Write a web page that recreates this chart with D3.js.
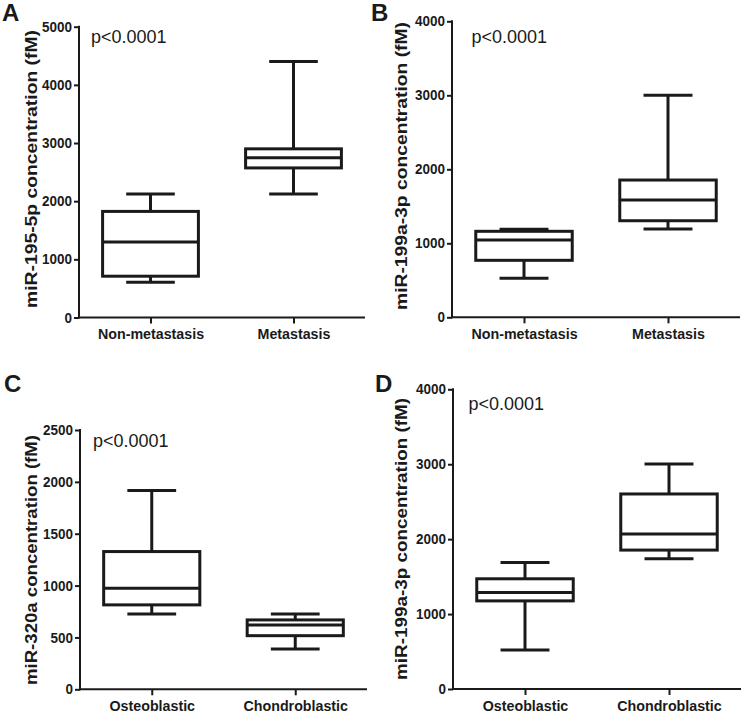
<!DOCTYPE html>
<html>
<head>
<meta charset="utf-8">
<script src="https://cdn.jsdelivr.net/npm/d3@7"></script>
<style>
  html, body { margin: 0; padding: 0; background: #fff; }
  svg { display: block; }
  text { font-family: "Liberation Sans", Arial, sans-serif; fill: #1a1a1a; }
</style>
</head>
<body>
<svg id="chart" width="741" height="713"></svg>
<script>
// ---------------- data ----------------
const categoriesMetastasis = ["Non-metastasis", "Metastasis"];
const categoriesSubtype = ["Osteoblastic", "Chondroblastic"];
// each box: [min, q1, median, q3, max]
const miR195_5p_byMetastasis = [[607, 710, 1297, 1824, 2124], [2124, 2572, 2745, 2900, 4400]];
const miR199a_3p_byMetastasis = [[527, 770, 1045, 1162, 1189], [1193, 1305, 1585, 1855, 3000]];
const miR320a_bySubtype = [[727, 814, 975, 1328, 1917], [389, 517, 621, 669, 727]];
const miR199a_3p_bySubtype = [[521, 1176, 1288, 1471, 1689], [1738, 1854, 2068, 2603, 3004]];
const ticksA = [0, 1000, 2000, 3000, 4000, 5000];
const ticksB = [0, 1000, 2000, 3000, 4000];
const ticksC = [0, 500, 1000, 1500, 2000, 2500];
const ticksD = [0, 1000, 2000, 3000, 4000];
const pValueLabels = ["p<0.0001", "p<0.0001", "p<0.0001", "p<0.0001"];
const yTitles = ["miR-195-5p concentration (fM)", "miR-199a-3p concentration (fM)",
                 "miR-320a concentration (fM)", "miR-199a-3p concentration (fM)"];
const panelLetters = ["A", "B", "C", "D"];

// ---------------- layout ----------------
const ink = "#1a1a1a";
const panels = [
  { letter: panelLetters[0], cats: categoriesMetastasis, data: miR195_5p_byMetastasis, ticks: ticksA,
    x0: 79, x1: 365, yTop: 26.7, yBot: 317.5, title: yTitles[0], titleX: 37, titleLen: 278, titleC: 169,
    p: pValueLabels[0], pX: 91, pY: 43, lx: 2, ly: 21 },
  { letter: panelLetters[1], cats: categoriesMetastasis, data: miR199a_3p_byMetastasis, ticks: ticksB,
    x0: 452, x1: 740, yTop: 21.3, yBot: 317.3, title: yTitles[1], titleX: 407, titleLen: 288, titleC: 166,
    p: pValueLabels[1], pX: 471.5, pY: 42.5, lx: 371, ly: 21 },
  { letter: panelLetters[2], cats: categoriesSubtype, data: miR320a_bySubtype, ticks: ticksC,
    x0: 80, x1: 367, yTop: 430, yBot: 689.3, title: yTitles[2], titleX: 37, titleLen: 250, titleC: 560,
    p: pValueLabels[2], pX: 93, pY: 447, lx: 4, ly: 392 },
  { letter: panelLetters[3], cats: categoriesSubtype, data: miR199a_3p_bySubtype, ticks: ticksD,
    x0: 453, x1: 741, yTop: 389.3, yBot: 689, title: yTitles[3], titleX: 407, titleLen: 282, titleC: 539,
    p: pValueLabels[3], pX: 468.5, pY: 410, lx: 375, ly: 392 }
];

const svg = d3.select("#chart");

function condense(sel, factor) {
  sel.each(function () {
    const w = this.getComputedTextLength();
    d3.select(this).attr("textLength", w * factor).attr("lengthAdjust", "spacingAndGlyphs");
  });
}

panels.forEach(P => {
  const g = svg.append("g");
  const maxT = P.ticks[P.ticks.length - 1];
  const y = d3.scaleLinear().domain([0, maxT]).range([P.yBot, P.yTop]);
  const x = d3.scalePoint().domain(P.cats).range([P.x0, P.x1]).padding(0.5);
  const step = x.step();
  const boxW = step * 0.67;
  const capW = step * 0.34;

  // y axis
  const ya = g.append("g").attr("transform", `translate(${P.x0},0)`)
    .call(d3.axisLeft(y).tickValues(P.ticks).tickFormat(d3.format("d")).tickSize(5).tickPadding(2).tickSizeOuter(0));
  ya.select(".domain").attr("stroke", ink).attr("stroke-width", 2)
    .attr("d", `M0,${P.yTop - 1}V${P.yBot + 1}`);
  ya.selectAll(".tick line").attr("stroke", ink).attr("stroke-width", 2);
  ya.selectAll(".tick text").attr("font-size", "14.5px").attr("font-weight", "bold")
    .attr("font-family", "'Liberation Sans', Arial, sans-serif").attr("fill", ink)
    .call(condense, 0.93);

  // x axis
  const xa = g.append("g").attr("transform", `translate(0,${P.yBot})`)
    .call(d3.axisBottom(x).tickSize(6).tickPadding(5).tickSizeOuter(0));
  xa.select(".domain").attr("stroke", ink).attr("stroke-width", 2)
    .attr("d", `M${P.x0 - 1},0H${P.x1}`);
  xa.selectAll(".tick line").attr("stroke", ink).attr("stroke-width", 2);
  xa.selectAll(".tick text").attr("font-size", "15px").attr("font-weight", "bold")
    .attr("font-family", "'Liberation Sans', Arial, sans-serif").attr("fill", ink)
    .attr("dy", null).attr("y", 21.5)
    .call(condense, 0.95);

  // boxes
  const boxes = g.selectAll(".box").data(P.data.map((d, i) => ({ cat: P.cats[i], s: d })))
    .enter().append("g").attr("class", "box");
  const lineStyle = sel => sel.attr("stroke", ink).attr("stroke-width", 3).attr("fill", "none");

  boxes.append("line").call(lineStyle)
    .attr("x1", d => x(d.cat)).attr("x2", d => x(d.cat))
    .attr("y1", d => y(d.s[3])).attr("y2", d => y(d.s[4]));
  boxes.append("line").call(lineStyle)
    .attr("x1", d => x(d.cat)).attr("x2", d => x(d.cat))
    .attr("y1", d => y(d.s[1])).attr("y2", d => y(d.s[0]));
  boxes.append("line").call(lineStyle)
    .attr("x1", d => x(d.cat) - capW / 2).attr("x2", d => x(d.cat) + capW / 2)
    .attr("y1", d => y(d.s[4])).attr("y2", d => y(d.s[4]));
  boxes.append("line").call(lineStyle)
    .attr("x1", d => x(d.cat) - capW / 2).attr("x2", d => x(d.cat) + capW / 2)
    .attr("y1", d => y(d.s[0])).attr("y2", d => y(d.s[0]));
  boxes.append("rect").call(lineStyle).attr("fill", "#fff")
    .attr("x", d => x(d.cat) - boxW / 2).attr("width", boxW)
    .attr("y", d => y(d.s[3])).attr("height", d => y(d.s[1]) - y(d.s[3]));
  boxes.append("line").call(lineStyle)
    .attr("x1", d => x(d.cat) - boxW / 2).attr("x2", d => x(d.cat) + boxW / 2)
    .attr("y1", d => y(d.s[2])).attr("y2", d => y(d.s[2]));

  // y title
  g.append("text")
    .attr("transform", `translate(${P.titleX},${P.titleC}) rotate(-90)`)
    .attr("text-anchor", "middle")
    .attr("font-size", "17px").attr("font-weight", "bold")
    .attr("textLength", P.titleLen).attr("lengthAdjust", "spacingAndGlyphs")
    .text(P.title);

  // p value
  g.append("text").attr("x", P.pX).attr("y", P.pY)
    .attr("font-size", "18px").text(P.p);

  // panel letter
  g.append("text").attr("x", P.lx).attr("y", P.ly)
    .attr("font-size", "24px").attr("font-weight", "bold").text(P.letter);
});
</script>
</body>
</html>
